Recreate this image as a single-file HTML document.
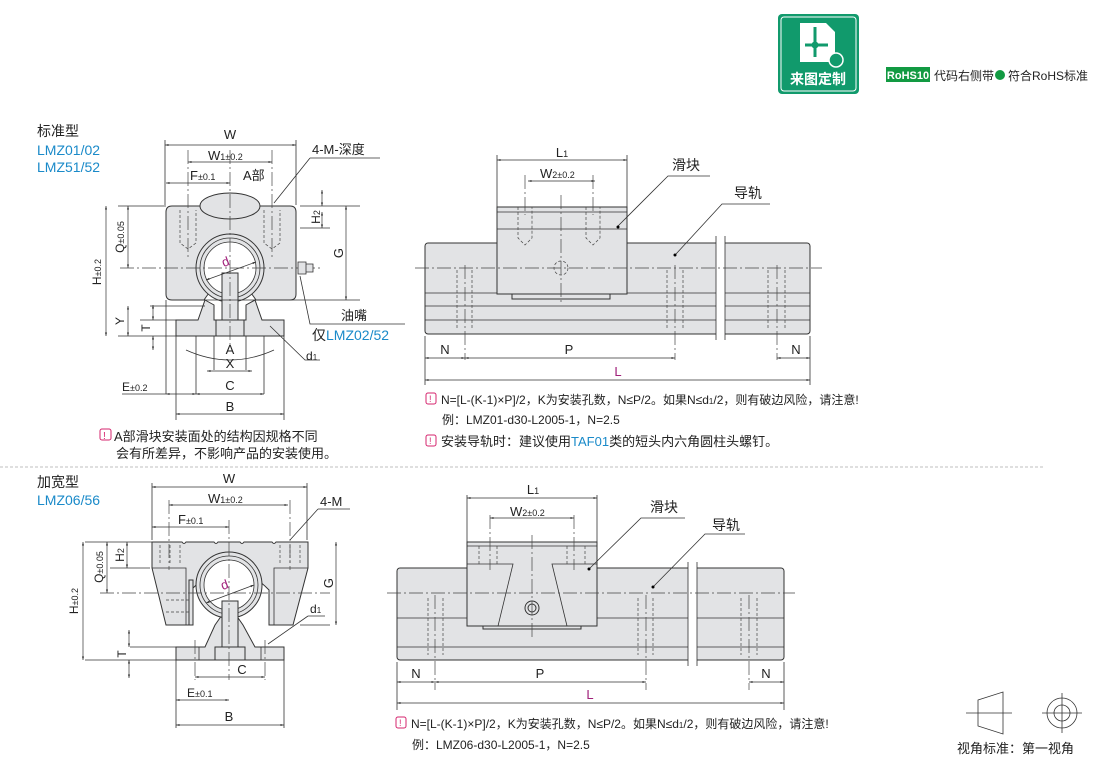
<!DOCTYPE html>
<html><head><meta charset="utf-8"><style>
html,body{margin:0;padding:0;background:#fff;width:1110px;height:758px;overflow:hidden}
svg{display:block}
text{font-family:"Liberation Sans","Noto Sans CJK SC",sans-serif;fill:#222}
.b{fill:#1a8ac9}.m{fill:#a0207a}
.g{fill:#e2e3e5;stroke:#333;stroke-width:1}
.l{stroke:#333;stroke-width:.8;fill:none}
.d{stroke:#444;stroke-width:.7;fill:none;stroke-dasharray:3 2}
.c{stroke:#444;stroke-width:.7;fill:none;stroke-dasharray:14 3 2 3}
.a{stroke:#333;stroke-width:.7;fill:none;marker-start:url(#ar);marker-end:url(#ar)}
</style></head><body>
<svg width="1110" height="758" viewBox="0 0 1110 758">
<defs><marker id="ar" viewBox="0 0 10 10" refX="10" refY="5" markerWidth="9" markerHeight="5" orient="auto-start-reverse"><path d="M0,2 L10,5 L0,8z" fill="#333"/></marker></defs>

<!-- header badge -->
<rect x="778" y="14" width="81" height="80" rx="4" fill="#119a6c"/>
<rect x="781" y="17" width="75" height="74" rx="3" fill="none" stroke="#fff" stroke-width="1"/>
<path d="M800 23 H826 L835 32 V62 H800Z" fill="#fff"/>
<path d="M815 27 V57 M805 45 H828" stroke="#119a6c" stroke-width="3"/>
<circle cx="815" cy="45" r="3.5" fill="#119a6c"/>
<circle cx="836" cy="60" r="7" fill="#119a6c" stroke="#fff" stroke-width="1.5"/>
<text x="818" y="84" text-anchor="middle" font-size="14" font-weight="bold" style="fill:#fff">来图定制</text>
<rect x="886" y="67" width="44" height="15" fill="#129a42"/>
<text x="908" y="79" text-anchor="middle" font-size="11" font-weight="bold" style="fill:#fff">RoHS10</text>
<text x="934" y="80" font-size="12">代码右侧带</text>
<circle cx="1000" cy="75" r="5" fill="#129a42"/>
<text x="1008" y="80" font-size="12">符合RoHS标准</text>

<!-- labels -->
<text x="37" y="136" font-size="14">标准型</text>
<text x="37" y="155" font-size="14" class="b">LMZ01/02</text>
<text x="37" y="172" font-size="14" class="b">LMZ51/52</text>
<text x="37" y="487" font-size="14">加宽型</text>
<text x="37" y="505" font-size="14" class="b">LMZ06/56</text>

<!-- TOP FRONT VIEW -->
<g>
<path class="g" d="M172 206 H290 Q296 206 296 212 V294 Q296 300 290 300 H262 L256 300 Q248 288 242 284 L238 282 H222 L218 284 Q212 288 204 300 H172 Q166 300 166 294 V212 Q166 206 172 206Z"/>
<path class="g" d="M205 300 L214 305 V320 H246 V305 L255 300 L262 320 H284 V336 H176 V320 H198Z"/>
<rect class="g" x="222" y="273" width="16" height="47"/>
<rect class="g" x="216" y="320" width="28" height="16"/>
<circle cx="230" cy="268" r="34" fill="#e2e3e5" stroke="#333" stroke-width="1"/>
<circle cx="230" cy="268" r="30" fill="none" stroke="#333" stroke-width=".8"/>
<circle cx="230" cy="268" r="26" fill="#fff" stroke="#333" stroke-width=".8"/>
<rect class="g" x="222" y="273" width="16" height="47"/>
<ellipse cx="230" cy="206" rx="30" ry="13" fill="#e2e3e5" stroke="#333"/>
<path class="d" d="M180 210 V243 L188 249 L196 243 V210 M264 210 V243 L272 249 L280 243 V210"/>
<path class="c" d="M188 150 V260 M272 150 V260 M230 150 V345 M120 268 H320"/>
<path d="M298 262 h8 v12 h-8z M306 264 h7 v8 h-7z" fill="#e2e3e5" stroke="#333" stroke-width=".8"/>
<line class="a" x1="206" y1="280" x2="256" y2="262" />
<text x="222" y="266" font-size="13" class="m" transform="rotate(-20 226 262)">d</text>
<path class="l" d="M165 140 V205 M296 140 V205 M118 206 H166 M118 336 H176 M200 300 H300 M296 300 H360 M300 206 H360 M150 306 H205 M140 320 H176 M176 336 V420 M284 336 V420 M196 336 V394 M264 336 V394 M214 336 V370 M246 336 V370 M166 300 V394"/>
<line class="a" x1="165" y1="145" x2="296" y2="145"/>
<text x="230" y="139" font-size="13" text-anchor="middle">W</text>
<line class="a" x1="188" y1="162" x2="272" y2="162"/>
<text x="208" y="160" font-size="13">W<tspan font-size="9">1±0.2</tspan></text>
<line class="a" x1="166" y1="183" x2="230" y2="183"/>
<text x="190" y="180" font-size="13">F<tspan font-size="9">±0.1</tspan></text>
<text x="243" y="180" font-size="13">A部</text>
<text x="312" y="154" font-size="13">4-M-深度</text>
<path class="l" d="M310 158 H380 M310 158 L274 203"/>
<line class="a" x1="106" y1="206" x2="106" y2="336"/>
<text x="101" y="272" font-size="12" transform="rotate(-90 101 272)" text-anchor="middle">H<tspan font-size="9">±0.2</tspan></text>
<line class="a" x1="128" y1="206" x2="128" y2="268"/>
<text x="124" y="237" font-size="12" transform="rotate(-90 124 237)" text-anchor="middle">Q<tspan font-size="9">±0.05</tspan></text>
<line class="a" x1="322" y1="190" x2="322" y2="206"/><line class="a" x1="322" y1="228" x2="322" y2="212"/>
<path class="l" d="M300 228 H330"/>
<text x="320" y="217" font-size="12" transform="rotate(-90 320 217)" text-anchor="middle">H<tspan font-size="9">2</tspan></text>
<line class="a" x1="346" y1="206" x2="346" y2="300"/>
<text x="343" y="253" font-size="13" transform="rotate(-90 343 253)" text-anchor="middle">G</text>
<line class="a" x1="128" y1="306" x2="128" y2="336"/>
<text x="124" y="321" font-size="12" transform="rotate(-90 124 321)" text-anchor="middle">Y</text>
<line class="a" x1="153" y1="305" x2="153" y2="320"/><line class="a" x1="153" y1="350" x2="153" y2="336"/>
<text x="150" y="328" font-size="12" transform="rotate(-90 150 328)" text-anchor="middle">T</text>
<path class="l" d="M186 350 Q230 370 274 350"/>
<text x="230" y="354" font-size="13" text-anchor="middle">A</text>
<line class="a" x1="207" y1="371" x2="252" y2="371"/>
<text x="230" y="368" font-size="13" text-anchor="middle">X</text>
<line class="a" x1="166" y1="394" x2="196" y2="394"/><line class="a" x1="196" y1="394" x2="264" y2="394"/>
<text x="122" y="391" font-size="12">E<tspan font-size="9">±0.2</tspan></text>
<path class="l" d="M122 394 H166"/>
<text x="230" y="390" font-size="13" text-anchor="middle">C</text>
<line class="a" x1="176" y1="414" x2="284" y2="414"/>
<text x="230" y="411" font-size="13" text-anchor="middle">B</text>
<path class="l" d="M270 326 L305 360 H320"/>
<text x="306" y="360" font-size="12">d<tspan font-size="8">1</tspan></text>
<path class="l" d="M300 276 L310 324 H405"/>
<text x="341" y="320" font-size="13">油嘴</text>
<text x="312" y="340" font-size="14">仅<tspan class="b">LMZ02/52</tspan></text>
</g>
<rect x="100" y="429" width="11" height="11" rx="2" fill="none" stroke="#d6246e"/><text x="103" y="439" font-size="10" style="fill:#d6246e">!</text>
<text x="114" y="441" font-size="13">A部滑块安装面处的结构因规格不同</text>
<text x="116" y="458" font-size="13">会有所差异，不影响产品的安装使用。</text>

<!-- TOP SIDE VIEW -->
<g>
<rect class="g" x="425" y="243" width="385" height="91" rx="3"/>
<path class="l" d="M425 293 H810 M425 306 H810 M425 320 H810"/>
<rect x="716" y="236" width="9" height="104" fill="#fff"/>
<path class="l" d="M716 236 V340 M725 236 V340"/>
<rect class="g" x="497" y="207" width="130" height="87"/>
<rect class="g" x="512" y="294" width="98" height="5"/>
<path class="l" d="M497 212 H627 M497 229 H627"/>
<path class="d" d="M518 207 V238 L525 245 L532 238 V207 M586 207 V238 L593 245 L600 238 V207 M457 270 V330 M472 270 V330 M667 270 V330 M683 270 V330 M768 270 V330 M785 270 V330"/>
<circle class="d" cx="561" cy="268" r="7"/>
<path class="c" d="M415 268 H822 M561 195 V305 M465 265 V360 M675 265 V360 M777 265 V360 M525 175 V215 M593 175 V215"/>
<path class="l" d="M497 155 V207 M627 155 V207 M425 336 V385 M810 336 V385"/>
<line class="a" x1="497" y1="160" x2="627" y2="160"/>
<text x="562" y="157" font-size="13" text-anchor="middle">L<tspan font-size="9">1</tspan></text>
<line class="a" x1="528" y1="181" x2="595" y2="181"/>
<text x="540" y="178" font-size="13">W<tspan font-size="9">2±0.2</tspan></text>
<path class="l" d="M618 226 L668 176 H710 M676 254 L722 204 H770"/>
<circle cx="618" cy="227" r="1.5"/><circle cx="675" cy="255" r="1.5"/>
<text x="672" y="170" font-size="14">滑块</text>
<text x="734" y="198" font-size="14">导轨</text>
<line class="a" x1="425" y1="358" x2="465" y2="358"/><line class="a" x1="465" y1="358" x2="675" y2="358"/><line class="a" x1="777" y1="358" x2="810" y2="358"/>
<text x="445" y="354" font-size="13" text-anchor="middle">N</text>
<text x="569" y="354" font-size="13" text-anchor="middle">P</text>
<text x="796" y="354" font-size="13" text-anchor="middle">N</text>
<line class="a" x1="425" y1="380" x2="810" y2="380"/>
<text x="618" y="376" font-size="13" class="m" text-anchor="middle">L</text>
</g>
<rect x="426" y="393" width="10" height="11" rx="2" fill="none" stroke="#d6246e"/><text x="429" y="402" font-size="9" style="fill:#d6246e">!</text>
<text x="441" y="404" font-size="12">N=[L-(K-1)×P]/2，K为安装孔数，N≤P/2。如果N≤d<tspan font-size="8">1</tspan>/2，则有破边风险，请注意!</text>
<text x="442" y="424" font-size="12">例：LMZ01-d30-L2005-1，N=2.5</text>
<rect x="426" y="435" width="10" height="11" rx="2" fill="none" stroke="#d6246e"/><text x="429" y="444" font-size="9" style="fill:#d6246e">!</text>
<text x="441" y="446" font-size="13">安装导轨时：建议使用<tspan class="b">TAF01</tspan>类的短头内六角圆柱头螺钉。</text>
<line x1="0" y1="467" x2="1045" y2="467" stroke="#aaa" stroke-width=".8" stroke-dasharray="3 2"/>

<!-- BOTTOM FRONT VIEW -->
<g>
<path class="g" d="M152 542 H182 Q184 545 186 542 H214 Q216 545 218 542 H240 Q242 545 244 542 H272 Q274 545 276 542 H308 V568 L293 625 H269 V590 Q230 550 191 590 V625 H166 L152 568Z"/>
<path class="g" d="M215 625 L222 615 H236 L243 625 L255 647 H284 V660 H176 V647 H205Z"/>
<rect class="g" x="222" y="602" width="16" height="45"/>
<rect class="g" x="215" y="647" width="30" height="13"/>
<circle cx="229" cy="585" r="33" fill="#e2e3e5" stroke="#333"/>
<circle cx="229" cy="585" r="29" fill="none" stroke="#333" stroke-width=".8"/>
<circle cx="229" cy="585" r="25" fill="#fff" stroke="#333" stroke-width=".8"/>
<rect class="g" x="222" y="601" width="16" height="46"/>
<rect class="g" x="189" y="580" width="4" height="45"/>
<path class="l" d="M152 568 H186 V625 M308 568 H274 V625 M199 647 V660 M261 647 V660"/>
<path class="d" d="M160 545 V565 M170 545 V565 M180 545 V565 M280 545 V565 M290 545 V565 M300 545 V565 M166 600 H190 M166 612 H190"/>
<path class="c" d="M169 500 V570 M290 500 V570 M229 520 V680 M100 593 H330 M195 640 V680 M265 640 V680"/>
<line class="a" x1="206" y1="603" x2="254" y2="585"/>
<text x="221" y="589" font-size="13" class="m" transform="rotate(-20 225 585)">d</text>
<path class="l" d="M152 483 V540 M307 483 V540 M85 542 H152 M85 660 H176 M110 568 H150 M300 625 H330 M130 647 H176 M176 660 V728 M284 660 V728"/>
<line class="a" x1="152" y1="487" x2="307" y2="487"/>
<text x="229" y="483" font-size="13" text-anchor="middle">W</text>
<line class="a" x1="169" y1="505" x2="288" y2="505"/>
<text x="208" y="503" font-size="13">W<tspan font-size="9">1±0.2</tspan></text>
<line class="a" x1="152" y1="527" x2="229" y2="527"/>
<text x="178" y="524" font-size="13">F<tspan font-size="9">±0.1</tspan></text>
<text x="320" y="506" font-size="13">4-M</text>
<path class="l" d="M318 509 H350 M318 509 L290 540"/>
<line class="a" x1="83" y1="542" x2="83" y2="660"/>
<text x="78" y="601" font-size="12" transform="rotate(-90 78 601)" text-anchor="middle">H<tspan font-size="9">±0.2</tspan></text>
<line class="a" x1="107" y1="542" x2="107" y2="593"/>
<text x="103" y="567" font-size="12" transform="rotate(-90 103 567)" text-anchor="middle">Q<tspan font-size="9">±0.05</tspan></text>
<line class="a" x1="127" y1="542" x2="127" y2="568"/>
<text x="124" y="555" font-size="12" transform="rotate(-90 124 555)" text-anchor="middle">H<tspan font-size="9">2</tspan></text>
<line class="a" x1="336" y1="542" x2="336" y2="625"/>
<text x="333" y="583" font-size="13" transform="rotate(-90 333 583)" text-anchor="middle">G</text>
<line class="a" x1="129" y1="630" x2="129" y2="647"/><line class="a" x1="129" y1="678" x2="129" y2="660"/>
<text x="126" y="654" font-size="12" transform="rotate(-90 126 654)" text-anchor="middle">T</text>
<text x="310" y="613" font-size="12">d<tspan font-size="8">1</tspan></text>
<path class="l" d="M308 616 H325 M308 616 L268 644"/>
<line class="a" x1="195" y1="677" x2="265" y2="677"/>
<text x="242" y="674" font-size="13" text-anchor="middle">C</text>
<line class="a" x1="176" y1="700" x2="229" y2="700"/>
<text x="187" y="697" font-size="12">E<tspan font-size="9">±0.1</tspan></text>
<line class="a" x1="176" y1="725" x2="284" y2="725"/>
<text x="229" y="721" font-size="13" text-anchor="middle">B</text>
</g>

<!-- BOTTOM SIDE VIEW -->
<g>
<rect class="g" x="397" y="568" width="387" height="92" rx="3"/>
<path class="l" d="M397 618 H784 M397 647 H784"/>
<rect x="688" y="562" width="9" height="104" fill="#fff"/>
<path class="l" d="M688 562 V666 M697 562 V666"/>
<rect class="g" x="467" y="542" width="130" height="84"/>
<rect class="g" x="483" y="626" width="98" height="3"/>
<path class="l" d="M467 546 H597 M467 564 H513 L498 626 M597 564 H552 L567 626"/>
<circle cx="532" cy="608" r="7" fill="none" stroke="#333"/><circle cx="532" cy="608" r="4" fill="none" stroke="#333"/>
<path class="d" d="M479 546 V564 M497 546 V564 M567 546 V564 M585 546 V564 M428 598 V655 M443 598 V655 M638 598 V655 M653 598 V655 M741 598 V655 M757 598 V655"/>
<path class="c" d="M387 593 H795 M532 535 V640 M435 595 V690 M646 595 V690 M749 595 V690 M490 515 V570 M574 515 V570"/>
<path class="l" d="M467 495 V542 M597 495 V542 M397 662 V710 M784 662 V710"/>
<line class="a" x1="467" y1="498" x2="597" y2="498"/>
<text x="533" y="494" font-size="13" text-anchor="middle">L<tspan font-size="9">1</tspan></text>
<line class="a" x1="490" y1="518" x2="574" y2="518"/>
<text x="510" y="516" font-size="13">W<tspan font-size="9">2±0.2</tspan></text>
<path class="l" d="M589 569 L641 518 H685 M653 587 L705 534 H745"/>
<circle cx="589" cy="569" r="1.5"/><circle cx="653" cy="587" r="1.5"/>
<text x="650" y="512" font-size="14">滑块</text>
<text x="712" y="530" font-size="14">导轨</text>
<line class="a" x1="397" y1="682" x2="435" y2="682"/><line class="a" x1="435" y1="682" x2="646" y2="682"/><line class="a" x1="749" y1="682" x2="784" y2="682"/>
<text x="416" y="678" font-size="13" text-anchor="middle">N</text>
<text x="540" y="678" font-size="13" text-anchor="middle">P</text>
<text x="766" y="678" font-size="13" text-anchor="middle">N</text>
<line class="a" x1="397" y1="703" x2="784" y2="703"/>
<text x="590" y="699" font-size="13" class="m" text-anchor="middle">L</text>
</g>
<rect x="396" y="717" width="10" height="11" rx="2" fill="none" stroke="#d6246e"/><text x="399" y="726" font-size="9" style="fill:#d6246e">!</text>
<text x="411" y="728" font-size="12">N=[L-(K-1)×P]/2，K为安装孔数，N≤P/2。如果N≤d<tspan font-size="8">1</tspan>/2，则有破边风险，请注意!</text>
<text x="412" y="749" font-size="12">例：LMZ06-d30-L2005-1，N=2.5</text>

<!-- view symbol -->
<path class="l" d="M978 700 L1003 692 V734 L978 726Z M966 713 H1012"/>
<circle class="l" cx="1062" cy="713" r="15"/><circle class="l" cx="1062" cy="713" r="8"/>
<path class="l" d="M1042 713 H1082 M1062 693 V733"/>
<text x="957" y="753" font-size="13">视角标准：第一视角</text>
</svg>
</body></html>
